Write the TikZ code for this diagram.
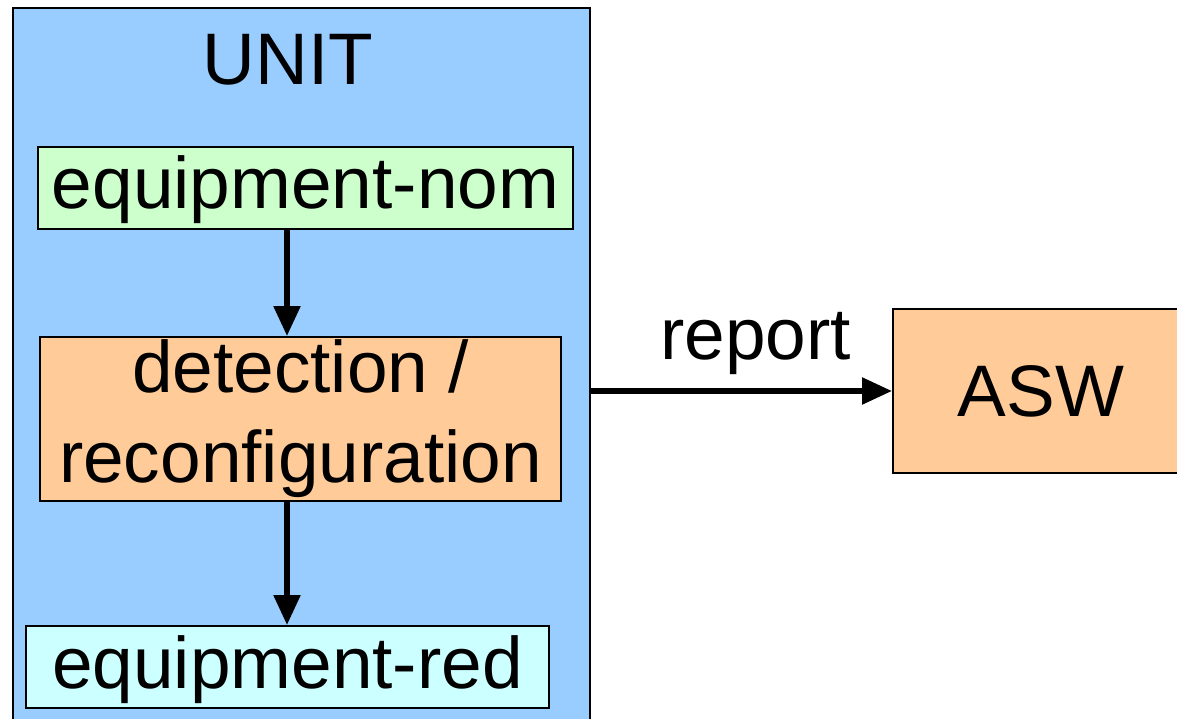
\documentclass[tikz,border=0pt]{standalone}
\usepackage{fontspec}
\setmainfont{Liberation Sans}
\usetikzlibrary{arrows.meta}
\definecolor{unitblue}{HTML}{99CCFF}
\definecolor{nomgreen}{HTML}{CCFFCC}
\definecolor{detorange}{HTML}{FFCC99}
\definecolor{redcyan}{HTML}{CCFFFF}
\tikzset{
  blk/.style={draw=black, line width=2pt, rectangle, inner sep=0pt, align=center,
    font=\fontsize{73}{90}\selectfont},
  oneline/.style={text height=56pt, text depth=14pt},
  flow/.style={line width=5.5pt, -{Triangle[length=30pt,width=26pt]}},
  lbl/.style={inner sep=0pt, font=\fontsize{73}{90}\selectfont}
}
\begin{document}
\begin{tikzpicture}[x=1pt,y=-1pt]
  \useasboundingbox (0,0) rectangle (1177,719);
  \clip (0,0) rectangle (1177,719);
  % container
  \node[blk, fill=unitblue, minimum width=577pt, minimum height=760pt, anchor=north west] (unit) at (12,7) {};
  \node[lbl, anchor=base] (title) at (288,85) {UNIT};
  % inner blocks
  \node[blk, oneline, fill=nomgreen, minimum width=535pt, minimum height=82pt] (nom) at (305.5,188) {equipment-nom};
  \node[blk, fill=detorange, minimum width=521pt, minimum height=164pt] (det) at (300.5,419) {detection /\\reconfiguration};
  \node[blk, oneline, fill=redcyan, minimum width=523pt, minimum height=82pt] (red) at (287.5,667) {equipment-red};
  % external block
  \node[blk, fill=detorange, minimum width=296pt, minimum height=164pt, anchor=west] (asw) at (892,391) {ASW};
  % connectors
  \draw[flow] (nom.south -| 287,0) -- (det.north -| 287,0);
  \draw[flow] (det.south -| 287,0) -- (red.north -| 287,0);
  \coordinate (uout) at (589,391);
  \draw[flow] (uout) -- node[lbl, above=14pt, pos=0.55] (rep) {report} (asw.west);
\end{tikzpicture}
\end{document}
